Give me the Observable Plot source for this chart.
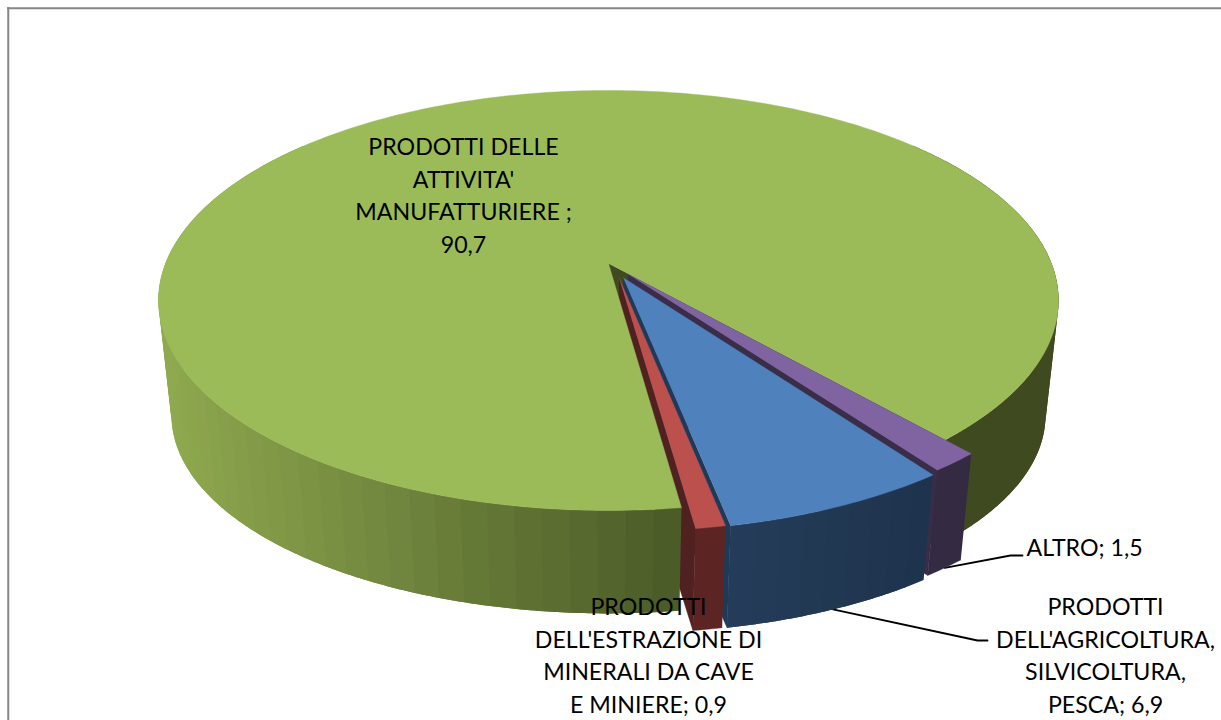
<!DOCTYPE html>
<html lang="it">
<head>
<meta charset="utf-8">
<title>Prodotti</title>
<script src="https://cdn.jsdelivr.net/npm/d3@7"></script>
<script src="https://cdn.jsdelivr.net/npm/@observablehq/plot@0.6"></script>
<style>
  html, body { margin: 0; padding: 0; background: #fff; overflow: hidden; }
  svg { display: block; }
</style>
</head>
<body>
<div id="chart"></div>
<script>
// Sector shares, clockwise from the first sector
const categories = ["ALTRO", "AGRICOLTURA", "ESTRAZIONE", "MANIFATTURA"];
const values = [1.5, 6.9, 0.9, 90.7];
const labelLines = [
  ["ALTRO; 1,5"],
  ["PRODOTTI", "DELL'AGRICOLTURA,", "SILVICOLTURA,", "PESCA; 6,9"],
  ["PRODOTTI", "DELL'ESTRAZIONE DI", "MINERALI DA CAVE", "E MINIERE; 0,9"],
  ["PRODOTTI DELLE", "ATTIVITA'", "MANUFATTURIERE ;", "90,7"]
];

// Colours of each sector: top face, outer wall, radial wall
const topColors = ["#8064a2", "#4f81bd", "#bc504d", "#9bbb59"];
const wallColors = ["#342a42", "#1f344e", "#5c2524", "#3f4a20"];
const radialColors = ["#3a2d4a", "#1f3a58", "#4f2120", "#3f4a20"];

// Projection of the tilted disc
const view = {cx: 608, cy: 263, rx: 443, ry: 203.5, k: 0.176, depthX: 0.971, depthY: 0.943, depthShift: 132};
const startAngle = 41.3;   // degrees from the front of the disc, positive to the right
const explode = [0.066, 0.075, 0.07, 0];
const nudgeX = [0.002, 0.003, 0.012, 0];

const rad = Math.PI / 180;
const project = (X, Z) => {
  const w = 1 - view.k * Z;
  return {x: view.cx + view.rx * X / w, y: view.cy + view.ry * Z / w};
};
const drop = (p) => ({x: view.cx + view.depthX * (p.x - view.cx), y: view.depthShift + view.depthY * p.y});

// Angular extent of each sector, derived from the shares
const total = d3.sum(values);
let running = startAngle;
const sectors = categories.map((name, i) => {
  const a0 = running;
  const a1 = running - values[i] / total * 360;
  running = a1;
  const mid = (a0 + a1) / 2;
  const e = explode[i];
  const off = {X: e * Math.sin(mid * rad) + nudgeX[i], Z: e * Math.cos(mid * rad)};
  const at = (a) => project(Math.sin(a * rad) + off.X, Math.cos(a * rad) + off.Z);
  return {name, i, a0, a1, mid, off, at, apex: project(off.X, off.Z)};
});

const arc = (s, from, to, step = 1) => {
  const n = Math.max(2, Math.ceil(Math.abs(to - from) / step));
  return d3.range(n + 1).map((j) => s.at(from + (to - from) * j / n));
};
const topFace = (s) => [s.apex, ...arc(s, s.a0, s.a1)];
const radialWall = (s, a) => [s.apex, s.at(a), drop(s.at(a)), drop(s.apex)];
const outerWall = (s, from, to) => {
  const rim = arc(s, from, to);
  return [...rim, ...rim.map(drop).reverse()];
};

// Shaded wall built from overlapping bands, each painted over the end of the one before it
const wallBands = (s, from, to, shade, step = 3) => {
  const n = Math.ceil(Math.abs(to - from) / step);
  return d3.range(n).flatMap((j) => {
    const a = from + (to - from) * j / n;
    const b = from + (to - from) * Math.min(n, j + 2) / n;
    const rim = arc(s, a, b, 0.5);
    const fill = shade(s.at(from + (to - from) * (j + 0.5) / n).x);
    return [...rim, ...rim.map(drop).reverse()].map((v) => ({...v, band: `${s.name}${j}`, fill}));
  });
};

const solid = (pts, color) => Plot.line(pts, {x: "x", y: "y", fill: color, stroke: color, strokeWidth: 0.4, curve: "linear"});
const bands = (pts) => Plot.line(pts, {x: "x", y: "y", z: "band", fill: "fill", stroke: "none", curve: "linear"});

const [altro, agri, estr, manu] = sectors;

const clamp01 = (t) => Math.min(1, Math.max(0, t));
const greenShade = (x) => d3.interpolateRgb("#8fa94f", "#4a5a27")(clamp01((x - 160) / 520));
const blueShade = (x) => d3.interpolateRgb("#253d5b", "#1e334c")(clamp01((x - 725) / 208));

// Text placement for each data label
const labelPlace = [
  {x: 1026, y: 532.5, anchor: "start"},
  {x: 1105, y: 591.5, anchor: "middle"},
  {x: 648, y: 591.5, anchor: "middle"},
  {x: 463, y: 131.5, anchor: "middle"}
];
const labels = labelLines.map((lines, i) => ({text: lines.join("\n"), ...labelPlace[i]}));

// Leader lines run from the foot of the outer wall, at mid sector, to the label
const footOf = (s) => drop(s.at(s.mid));
const leaders = [
  [footOf(altro), {x: 1010, y: 555}, {x: 1022, y: 555}],
  [footOf(agri), {x: 977, y: 640}, {x: 987, y: 640}]
];

const chart = Plot.plot({
  width: 1221,
  height: 720,
  margin: 0,
  x: {axis: null, domain: [0, 1221], range: [0, 1221]},
  y: {axis: null, domain: [0, 720], range: [0, 720]},
  color: {type: "identity"},
  style: {background: "#fff", fontFamily: "Lato, 'Open Sans', sans-serif"},
  marks: [
    Plot.ruleX([7.75], {y1: 7, y2: 720, stroke: "#868686", strokeWidth: 2}),
    Plot.ruleY([7.75], {x1: 7, x2: 1221, stroke: "#868686", strokeWidth: 2}),

    // Leader lines sit behind the disc
    ...leaders.map((pts) => Plot.line(pts, {x: "x", y: "y", stroke: "#000", strokeWidth: 1.8, curve: "linear"})),

    // Walls seen through the gap left by the detached sectors
    solid(radialWall(manu, manu.a1), radialColors[3]),
    solid(radialWall(altro, altro.a1), radialColors[0]),
    solid(radialWall(agri, agri.a1), radialColors[1]),
    solid(radialWall(estr, estr.a1), radialColors[2]),

    // Main sector: outer wall, then top face
    bands(wallBands(manu, manu.a0, -130, greenShade)),
    bands(wallBands(manu, startAngle, 130, () => wallColors[3])),
    solid(topFace(manu), topColors[3]),

    // Detached sectors, back to front
    solid(outerWall(altro, altro.a0, altro.a1), wallColors[0]),
    solid(topFace(altro), topColors[0]),
    bands(wallBands(agri, agri.a0, agri.a1, blueShade)),
    solid(topFace(agri), topColors[1]),
    solid(outerWall(estr, estr.a0, estr.a1), wallColors[2]),
    solid(topFace(estr), topColors[2]),

    // Data labels
    ...labels.map((d) => Plot.text([d], {
      x: "x", y: "y", text: "text",
      textAnchor: d.anchor, lineAnchor: "top",
      fontSize: 23.2, lineHeight: 32.6 / 23.2, fill: "#000"
    }))
  ]
});
document.getElementById("chart").append(chart);
</script>
</body>
</html>
